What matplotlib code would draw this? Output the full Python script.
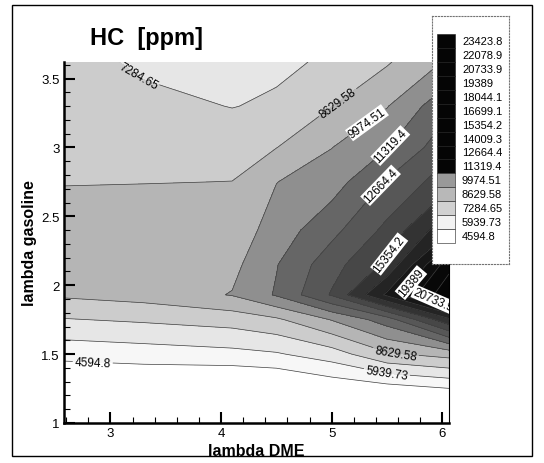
import matplotlib
matplotlib.use('Agg')
import matplotlib.pyplot as plt
from matplotlib.patches import Rectangle
from matplotlib.ticker import MultipleLocator, FormatStrFormatter

plt.rcParams['font.family'] = ['Liberation Sans', 'DejaVu Sans']

# grid (lambda DME across, lambda gasoline up)
lam_dme = [2.58, 3.3, 4.1, 4.5, 5.0, 5.5, 6.06]
lam_gas = [1.0, 1.25, 1.5, 1.75, 1.93, 2.15, 2.4, 2.75, 3.0, 3.3, 3.62]
hc = [
    [1233, 1098, 829, 560, 291, 156, 22],
    [2846, 2981, 2712, 2846, 3573, 4003, 4568],
    [5039, 5267, 5536, 5805, 6639, 8428, 9141],
    [7204, 7473, 7850, 8401, 10042, 11992, 16363],
    [8831, 9168, 10042, 11454, 14144, 18313, 23289],
    [9235, 9504, 9598, 11252, 13471, 15623, 21541],
    [9369, 9571, 9154, 10580, 12261, 14359, 17775],
    [8562, 8589, 8643, 9948, 10701, 12799, 14816],
    [8293, 8092, 8092, 8603, 9948, 11252, 13606],
    [8092, 7688, 7244, 7486, 8603, 9907, 12395],
    [7890, 7016, 6612, 7016, 7486, 8495, 10176],
]

level_text = ['4594.8', '5939.73', '7284.65', '8629.58', '9974.51', '11319.4',
              '12664.4', '14009.3', '15354.2', '16699.1', '18044.1', '19389',
              '20733.9', '22078.9', '23423.8']
levels = [float(t) for t in level_text]

band_grays = ['0.97', '0.9', '0.8', '0.71', '0.56', '0.4', '0.34', '0.28',
              '0.2', '0.14', '0.09', '0.05', '0.03', '0.02']
legend_grays = ['1.0', '0.95', '0.82', '0.72', '0.6'] + ['0.02'] * 10

# contour labels: level -> spots near which the label sits
label_spots = {
    '4594.8': [(2.84, 1.44)],
    '5939.73': [(5.5, 1.37)],
    '7284.65': [(3.25, 3.52)],
    '8629.58': [(5.05, 3.33), (5.58, 1.52)],
    '9974.51': [(5.3, 3.2)],
    '11319.4': [(5.55, 3.0)],
    '12664.4': [(5.42, 2.74)],
    '15354.2': [(5.55, 2.21)],
    '19389': [(5.7, 2.03)],
    '20733.9': [(5.92, 1.9)],
}
boxed = ['9974.51', '11319.4', '12664.4', '15354.2', '19389', '20733.9']

x_ticks = [3, 4, 5, 6]
y_ticks = [1, 1.5, 2, 2.5, 3, 3.5]

W, H = 544, 464
fig = plt.figure(figsize=(W / 100, H / 100), dpi=100)
ax = fig.add_axes([64 / W, 1 - 424 / H, (449 - 64) / W, (424 - 63) / H])

ax.contourf(lam_dme, lam_gas, hc, levels=levels,
            colors=['white'] + band_grays + ['0.0'], extend='both')

plain = [lv for lv, t in zip(levels, level_text) if t not in label_spots]
ax.contour(lam_dme, lam_gas, hc, levels=plain, colors='0.25', linewidths=0.5)

for txt, spots in label_spots.items():
    lev = float(txt)
    cs = ax.contour(lam_dme, lam_gas, hc, levels=[lev], colors='0.25',
                    linewidths=0.5)
    out = cs.clabel(manual=spots, fmt={lev: txt}, fontsize=8.5,
                    inline=True, inline_spacing=2)
    for t in out:
        t.set_color('black')
        if txt in boxed:
            t.set_bbox(dict(facecolor='white', edgecolor='none', pad=0.6))

ax.set_xlim(2.58, 6.06)
ax.set_ylim(1.0, 3.62)
ax.set_xticks(x_ticks)
ax.set_yticks(y_ticks)
ax.xaxis.set_minor_locator(MultipleLocator(0.2))
ax.yaxis.set_minor_locator(MultipleLocator(0.1))
ax.xaxis.set_major_formatter(FormatStrFormatter('%g'))
ax.yaxis.set_major_formatter(FormatStrFormatter('%g'))
ax.tick_params(which='major', direction='in', length=8, width=1.5,
               labelsize=9.5, pad=3, top=False, right=False)
ax.tick_params(which='minor', direction='in', length=4, width=0.8,
               top=False, right=False)
ax.spines['top'].set_visible(False)
ax.spines['right'].set_linewidth(0.8)
ax.spines['left'].set_linewidth(1.8)
ax.spines['bottom'].set_linewidth(1.8)

ax.set_xlabel('lambda DME', fontsize=11.5, fontweight='bold', labelpad=3)
ax.set_ylabel('lambda gasoline', fontsize=11.5, fontweight='bold', labelpad=3)

fig.text(147 / W, 1 - 38 / H, 'HC  [ppm]', fontsize=17, fontweight='bold',
         ha='center', va='center')

# legend box
lg = fig.add_axes([432 / W, 1 - 265 / H, 77 / W, 248 / H])
lg.set_xlim(0, 77)
lg.set_ylim(16.0, -1.79)
lg.set_xticks([])
lg.set_yticks([])
for s in lg.spines.values():
    s.set_linestyle(':')
    s.set_color('0.45')
    s.set_linewidth(0.8)
for i in range(len(level_text)):
    j = len(level_text) - 1 - i
    lg.bar(14, 1, width=18, bottom=i - 0.5, color=legend_grays[j],
           edgecolor='0.1', linewidth=0.4)
    lg.text(30, i, level_text[j], fontsize=8, va='center', ha='left')

fig.add_artist(Rectangle((12 / W, 1 - 457 / H), (532 - 12) / W, (457 - 6) / H,
                         transform=fig.transFigure, fill=False, lw=1.0,
                         ec='black'))

fig.savefig('out.png', dpi=100)
